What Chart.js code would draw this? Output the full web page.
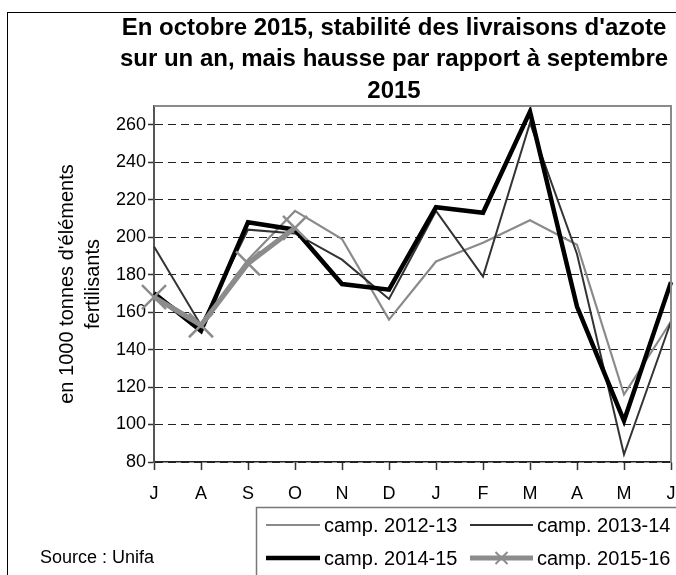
<!DOCTYPE html>
<html>
<head>
<meta charset="utf-8">
<script src="https://cdn.jsdelivr.net/npm/chart.js@4"></script>
<style>
    html, body { margin: 0; padding: 0; background: #fff; }
</style>
</head>
<body>
<canvas id="azote-chart" width="676" height="575"></canvas>
<script>
const months =
    ['J', 'A', 'S', 'O', 'N', 'D', 'J', 'F', 'M', 'A', 'M', 'J'];

const camp1213 =
    [169, 154, 188, 214, 199, 156, 187, 197, 209, 196, 116, 155];
const camp1314 =
    [195, 153, 204, 202, 188, 167, 214, 179, 261, 191, 84, 155];
const camp1415 =
    [170, 150, 208, 204, 175, 172, 216, 213, 267, 163, 102, 176];
const camp1516 =
    [168, 153, 186, 205];

const seriesLabels =
    ['camp. 2012-13', 'camp. 2013-14', 'camp. 2014-15', 'camp. 2015-16'];

const yTicks =
    [80, 100, 120, 140, 160, 180, 200, 220, 240, 260];
const yMin = 80;
const yMax = 270;

const titleLines = [
    'En octobre 2015, stabilité des livraisons d\'azote',
    'sur un an, mais hausse par rapport à septembre',
    '2015'
];
const yTitle = ['en 1000 tonnes d\'éléments', 'fertilisants'];
const sourceText = 'Source : Unifa';

const FONT = '"Liberation Sans", Arial, sans-serif';

// cadre, titre, source et légende dessinés à la main
const decorPlugin = {
    id: 'decor',
    beforeDraw(chart) {
        const c = chart.ctx;
        c.save();
        c.fillStyle = '#fff';
        c.fillRect(0, 0, chart.width, chart.height);
        c.restore();
    },
    afterDraw(chart) {
        const c = chart.ctx;
        const area = chart.chartArea;
        c.save();

        c.strokeStyle = '#000';
        c.lineWidth = 1;
        c.strokeRect(7.5, 12.5, 720, 720);

        c.strokeStyle = '#8a8a8a';
        c.lineWidth = 2;
        c.beginPath();
        c.moveTo(area.left, area.top);
        c.lineTo(area.right, area.top);
        c.lineTo(area.right, area.bottom);
        c.stroke();

        c.fillStyle = '#000';
        c.font = 'bold 24px ' + FONT;
        c.textAlign = 'center';
        c.textBaseline = 'middle';
        titleLines.forEach((line, i) => {
            c.fillText(line, 394, 28 + i * 31.5);
        });

        c.font = '18px ' + FONT;
        c.textAlign = 'left';
        c.fillText(sourceText, 40, 558);

        // légende
        c.strokeStyle = '#777';
        c.lineWidth = 1.5;
        c.strokeRect(256.5, 507.5, 500, 200);

        const slots = [
            { x: 266, w: 54, y: 525 },
            { x: 470, w: 63, y: 525 },
            { x: 266, w: 54, y: 558 },
            { x: 470, w: 63, y: 558 }
        ];
        chart.data.datasets.forEach((ds, i) => {
            const s = slots[i];
            c.strokeStyle = ds.borderColor;
            c.lineWidth = ds.borderWidth;
            c.beginPath();
            c.moveTo(s.x, s.y);
            c.lineTo(s.x + s.w, s.y);
            c.stroke();
            if (ds.pointStyle === 'crossRot') {
                const m = s.x + s.w / 2;
                c.lineWidth = 2;
                c.beginPath();
                c.moveTo(m - 6, s.y - 6);
                c.lineTo(m + 6, s.y + 6);
                c.moveTo(m + 6, s.y - 6);
                c.lineTo(m - 6, s.y + 6);
                c.stroke();
            }
            c.fillStyle = '#000';
            c.font = '20px ' + FONT;
            c.textAlign = 'left';
            c.textBaseline = 'middle';
            c.fillText(ds.label, s.x + s.w + 4, s.y + 1);
        });

        c.restore();
    }
};

const ctx = document.getElementById('azote-chart');

new Chart(ctx, {
    type: 'line',
    data: {
        labels: months,
        datasets: [
            {
                label: seriesLabels[0],
                data: camp1213,
                borderColor: '#8a8a8a',
                borderWidth: 2.2,
                pointRadius: 0,
                order: 3
            },
            {
                label: seriesLabels[1],
                data: camp1314,
                borderColor: '#333',
                borderWidth: 2,
                pointRadius: 0,
                order: 2
            },
            {
                label: seriesLabels[2],
                data: camp1415,
                borderColor: '#000',
                borderWidth: 4.5,
                pointRadius: 0,
                order: 1
            },
            {
                label: seriesLabels[3],
                data: camp1516,
                borderColor: '#8c8c8c',
                borderWidth: 5,
                pointStyle: 'crossRot',
                pointRadius: 17,
                pointBorderWidth: 2.5,
                pointBorderColor: '#8c8c8c',
                pointBackgroundColor: '#8c8c8c',
                order: 0
            }
        ]
    },
    options: {
        responsive: false,
        animation: false,
        devicePixelRatio: 1,
        layout: {
            autoPadding: false,
            padding: { top: 106, right: 5, bottom: 0, left: 0 }
        },
        plugins: {
            legend: { display: false },
            title: { display: false },
            tooltip: { enabled: false }
        },
        elements: {
            line: { tension: 0 }
        },
        scales: {
            x: {
                offset: false,
                afterFit: scale => {
                    scale.height = 113;
                    scale.paddingLeft = 0;
                    scale.paddingRight = 0;
                },
                grid: {
                    offset: false,
                    drawOnChartArea: false,
                    tickLength: 8,
                    tickColor: '#333',
                    tickWidth: 1.5
                },
                border: { color: '#222', width: 1.5 },
                ticks: {
                    color: '#000',
                    font: { family: FONT, size: 18 },
                    padding: 13,
                    maxRotation: 0,
                    autoSkip: false
                }
            },
            y: {
                min: yMin,
                max: yMax,
                afterFit: scale => { scale.width = 154; },
                afterBuildTicks: scale => {
                    scale.ticks = yTicks.map(v => ({ value: v }));
                },
                grid: {
                    color: '#222',
                    lineWidth: 1,
                    tickLength: 6,
                    tickColor: '#333',
                    tickBorderDash: [],
                    tickWidth: 1.5
                },
                border: { color: '#555', width: 2, dash: [8, 5] },
                ticks: {
                    color: '#000',
                    font: { family: FONT, size: 18 },
                    padding: 2
                },
                title: {
                    display: true,
                    text: yTitle,
                    color: '#000',
                    font: { family: FONT, size: 20, lineHeight: 1.3 },
                    padding: { top: 54, bottom: 0 }
                }
            }
        }
    },
    plugins: [decorPlugin]
});
</script>
</body>
</html>
